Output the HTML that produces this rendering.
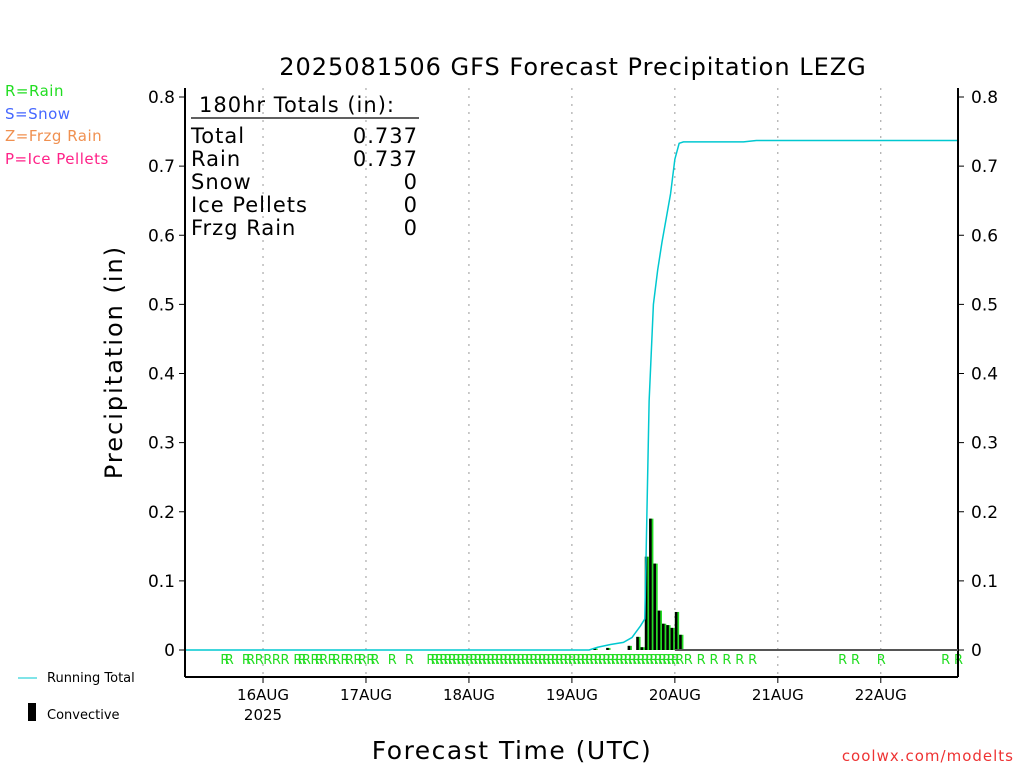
<!DOCTYPE html>
<html><head><meta charset="utf-8"><style>
body{margin:0;background:#fff;}
svg{display:block;font-family:"DejaVu Sans","Liberation Sans",sans-serif;}
</style></head><body>
<svg id="chart" width="1024" height="768" viewBox="0 0 1024 768">
<text x="573" y="75" font-size="24" text-anchor="middle" letter-spacing="1" fill="#000">2025081506 GFS Forecast Precipitation LEZG</text>
<g font-size="15" letter-spacing="0.5">
<text x="5" y="96" fill="#22dd22">R=Rain</text>
<text x="5" y="119" fill="#4466ff">S=Snow</text>
<text x="5" y="141" fill="#f09050">Z=Frzg Rain</text>
<text x="5" y="164" fill="#ff2288">P=Ice Pellets</text>
</g>
<g id="grid"></g>
<g id="bars"></g>
<g id="rmarks"></g>
<g id="line"></g>
<g id="axes"></g>
<g font-size="21" fill="#000" letter-spacing="1">
<text x="199" y="112">180hr Totals (in):</text>
<line x1="191" y1="118" x2="419" y2="118" stroke="#000" stroke-width="1.2"/>
<text x="191" y="143">Total</text><text x="418" y="143" text-anchor="end">0.737</text>
<text x="191" y="166">Rain</text><text x="418" y="166" text-anchor="end">0.737</text>
<text x="191" y="189">Snow</text><text x="418" y="189" text-anchor="end">0</text>
<text x="191" y="212">Ice Pellets</text><text x="418" y="212" text-anchor="end">0</text>
<text x="191" y="235">Frzg Rain</text><text x="418" y="235" text-anchor="end">0</text>
</g>
<text transform="translate(122,362) rotate(-90)" font-size="24" text-anchor="middle" letter-spacing="2">Precipitation (in)</text>
<text x="512" y="759" font-size="25" text-anchor="middle" letter-spacing="1.5">Forecast Time (UTC)</text>
<text x="1014" y="761" font-size="15" text-anchor="end" fill="#ee3333" letter-spacing="1">coolwx.com/modelts</text>
<g font-size="13">
<line x1="18" y1="678" x2="37" y2="678" stroke="#00c8d0" stroke-width="1"/>
<text x="47" y="682">Running Total</text>
<rect x="28" y="703" width="8" height="18" fill="#000"/>
<text x="47" y="719">Convective</text>
</g>
</svg>
<script>
const yTicks=[0,0.1,0.2,0.3,0.4,0.5,0.6,0.7,0.8];
const yTickLabels=["0","0.1","0.2","0.3","0.4","0.5","0.6","0.7","0.8"];
const dayHours=[18,42,66,90,114,138,162];
const dayLabels=["16AUG","17AUG","18AUG","19AUG","20AUG","21AUG","22AUG"];
const barHours=[96,99,104,106,107,108,109,110,111,112,113,114,115,116];
const barValues=[0.002,0.003,0.006,0.019,0.004,0.135,0.19,0.125,0.057,0.038,0.036,0.032,0.055,0.022];
const totalHours=[0,94,96,99,102,104,106,107,108,109,110,111,112,113,114,115,116,117,130,133,180];
const totalValues=[0,0,0.004,0.008,0.011,0.018,0.035,0.045,0.36,0.5,0.55,0.59,0.625,0.66,0.71,0.733,0.735,0.735,0.735,0.737,0.737];
const rainHours=[9,10,14,15,17,19,21,23,26,27,28,30,31,32,34,35,37,38,40,41,43,44,48,52,57,58,59,60,61,62,63,64,65,66,67,68,69,70,71,72,73,74,75,76,77,78,79,80,81,82,83,84,85,86,87,88,89,90,91,92,93,94,95,96,97,98,99,100,101,102,103,104,105,106,107,108,109,110,111,112,113,114,115,117,120,123,126,129,132,153,156,162,177,180];
const X0=185.8,PX=4.29,Y0=650,PY=691.25;
const xs=h=>X0+h*PX, ys=v=>Y0-v*PY;
const NS="http://www.w3.org/2000/svg";
function mk(tag,attrs,parent,txt){const e=document.createElementNS(NS,tag);for(const k in attrs)e.setAttribute(k,attrs[k]);if(txt!==undefined)e.textContent=txt;parent.appendChild(e);return e;}
const grid=document.getElementById('grid'),axes=document.getElementById('axes'),bars=document.getElementById('bars'),rm=document.getElementById('rmarks'),ln=document.getElementById('line');
dayHours.forEach((h,i)=>{
 const g=mk('line',{x1:xs(h),x2:xs(h),y1:88,y2:677,stroke:'#999','stroke-dasharray':'2,6','stroke-width':1},grid);
 
 
 mk('line',{x1:xs(h),x2:xs(h),y1:677,y2:683,stroke:'#000'},axes);
 const l=mk('text',{x:xs(h),y:700,'font-size':15,'text-anchor':'middle'},axes,dayLabels[i]);
 
 
});
const yr=mk('text',{x:xs(18),y:720,'font-size':15,'text-anchor':'middle'},axes,'2025');


mk('line',{x1:185,y1:88,x2:185,y2:677,stroke:'#000','stroke-width':2},axes);
mk('line',{x1:958,y1:88,x2:958,y2:677,stroke:'#000','stroke-width':2},axes);
mk('line',{x1:185,y1:677,x2:958,y2:677,stroke:'#000','stroke-width':2},axes);
mk('line',{x1:xs(114),y1:650,x2:958,y2:650,stroke:'#555','stroke-width':2},axes);
yTicks.forEach((v,i)=>{
 mk('line',{x1:179,x2:185,y1:ys(v),y2:ys(v),stroke:'#000'},axes);
 mk('line',{x1:958,x2:964,y1:ys(v),y2:ys(v),stroke:'#000'},axes);
 const a=mk('text',{x:175,y:ys(v)+6,'font-size':17,'text-anchor':'end'},axes,yTickLabels[i]);
 
 
 const b=mk('text',{x:971,y:ys(v)+6,'font-size':17},axes,yTickLabels[i]);
 
 
});
barValues.forEach((v,i)=>{
 const x=xs(barHours[i]-1);
 const g=mk('rect',{x:x,y:ys(v),width:PX,height:Y0-ys(v),fill:'#22dd22'},bars);
 
 
 const c=mk('rect',{x:x,y:ys(v),width:PX*0.6,height:Y0-ys(v),fill:'#000'},bars);
 
 
});
rainHours.forEach(h=>{
 const t=mk('text',{x:xs(h)-4,y:664,'font-size':13,fill:'#22dd22'},rm,'R');
 
 
});
const pts=totalHours.map((h,i)=>xs(h)+','+ys(totalValues[i])).join(' ');
const pl=mk('polyline',{points:pts,fill:'none',stroke:'#00c8d0','stroke-width':1.5},ln);


</script>
</body></html>
